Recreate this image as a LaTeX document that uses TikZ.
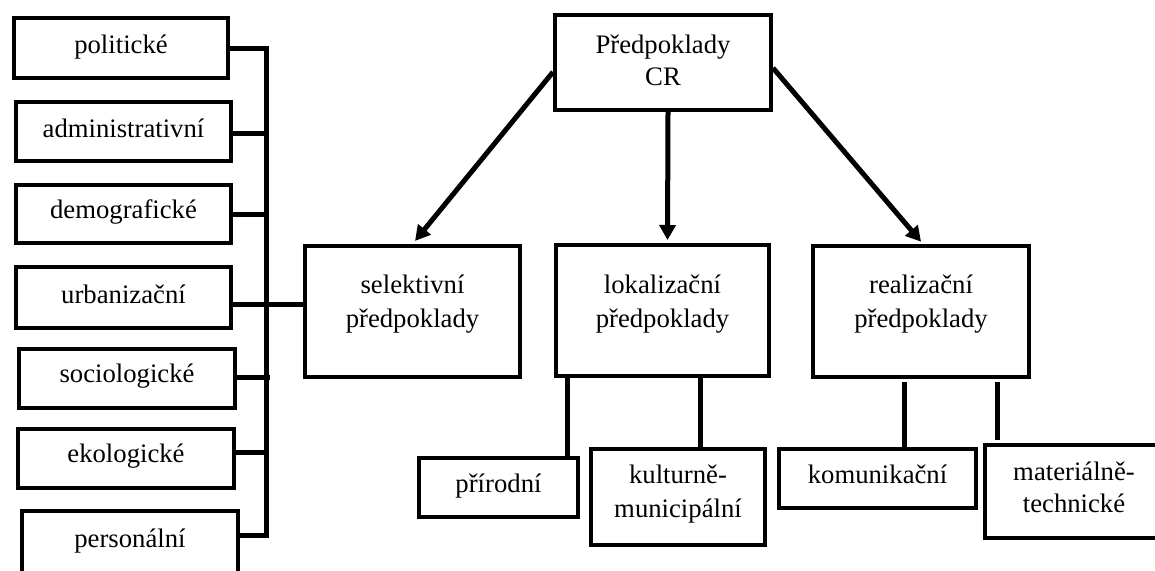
\documentclass[tikz,border=0pt]{standalone}
\usepackage{fontspec}
\setmainfont{Liberation Serif}
\usetikzlibrary{arrows.meta,calc}
\begin{document}
\begin{tikzpicture}[x=1pt,y=-1pt,
  box/.style={draw, line width=4pt, inner sep=0pt, rectangle},
  txt/.style={font=\fontsize{26.7}{31}\selectfont, anchor=base, inner sep=0pt},
  conn/.style={line width=5pt, line join=miter},
  arr/.style={line width=5pt, -{Triangle[length=15pt,width=16pt]}}]
\useasboundingbox (0,0) rectangle (1155,570);
\clip (0,0) rectangle (1155,570);
% left boxes
\node[box, minimum width=214pt, minimum height=60pt] (pol) at (121,48) {};
\node[box, minimum width=215pt, minimum height=59pt] (adm) at (123.5,131.5) {};
\node[box, minimum width=215pt, minimum height=58pt] (dem) at (123.5,214) {};
\node[box, minimum width=215pt, minimum height=61pt] (urb) at (123.5,297.5) {};
\node[box, minimum width=216pt, minimum height=59pt] (soc) at (127,378.5) {};
\node[box, minimum width=216pt, minimum height=59pt] (eko) at (126,458.5) {};
\node[box, minimum width=216pt, minimum height=62pt] (per) at (130,542) {};
\node[txt] (tpol) at (121,53) {politické};
\node[txt] (tadm) at (123.5,137) {administrativní};
\node[txt] (tdem) at (123.5,218) {demografické};
\node[txt] (turb) at (123.5,303) {urbanizační};
\node[txt] (tsoc) at (127,382) {sociologické};
\node[txt] (teko) at (126,462) {ekologické};
\node[txt] (tper) at (130,547) {personální};
% top and middle boxes
\node[box, minimum width=216pt, minimum height=95pt] (top) at (663,62.5) {};
\node[txt] (ttop1) at (663,53) {Předpoklady};
\node[txt] (ttop2) at (663,85) {CR};
\node[box, minimum width=215pt, minimum height=131pt] (sel) at (412.5,311.5) {};
\node[txt] (tsel1) at (412.5,293) {selektivní};
\node[txt] (tsel2) at (412.5,327) {předpoklady};
\node[box, minimum width=213pt, minimum height=131pt] (lok) at (662.5,310.5) {};
\node[txt] (tlok1) at (662.5,293) {lokalizační};
\node[txt] (tlok2) at (662.5,327) {předpoklady};
\node[box, minimum width=216pt, minimum height=131pt] (real) at (921,311.5) {};
\node[txt] (treal1) at (921,293) {realizační};
\node[txt] (treal2) at (921,327) {předpoklady};
% bottom boxes
\node[box, minimum width=159pt, minimum height=59pt] (pri) at (498.5,487.5) {};
\node[txt] (tpri) at (498.5,492) {přírodní};
\node[box, minimum width=174pt, minimum height=96pt] (kul) at (678,497) {};
\node[txt] (tkul1) at (678,483) {kulturně-};
\node[txt] (tkul2) at (678,517) {municipální};
\node[box, minimum width=197pt, minimum height=59pt] (kom) at (877.5,478.5) {};
\node[txt] (tkom) at (877.5,483) {komunikační};
\node[box, minimum width=179pt, minimum height=93pt] (mat) at (1074.5,491.5) {};
\node[txt] (tmat1) at (1074,480) {materiálně-};
\node[txt] (tmat2) at (1074,512) {technické};
% bus on the left
\coordinate (busbot) at (266,535);
\coordinate (pstub) at ([yshift=7pt]per.east);
\draw[conn] (pol.east) -| (busbot) -- (pstub -| per.east);
\draw[conn] ([yshift=-1.5pt]adm.east) -- ([yshift=-1.5pt]adm.east -| busbot);
\draw[conn] (dem.east) -- (dem.east -| busbot);
\coordinate (u1) at ([yshift=-6.5pt]urb.east);
\draw[conn] (u1) -- (u1 -| sel.west);
\coordinate (s1) at ([yshift=1.5pt]soc.east);
\coordinate (s2) at (270,0);
\draw[conn] (s1) -- (s1 -| s2);
\coordinate (e1) at ([yshift=6.5pt]eko.east);
\draw[conn] (e1) -- (e1 -| busbot);
% arrows
\draw[arr, shorten >=4pt] ([yshift=-9.5pt]top.west) -- (sel.north);
\draw[arr, shorten >=3pt] ([xshift=5pt]top.south) -- ([xshift=5pt]lok.north);
\draw[arr, shorten >=3pt] ([yshift=-5.5pt]top.east) -- ([xshift=2pt]real.north);
% lower connectors
\coordinate (l1) at ([xshift=-95.5pt]lok.south);
\coordinate (l2) at ([xshift=37.5pt]lok.south);
\draw[conn] (l1) -- (l1 |- pri.north);
\draw[conn] (l2) -- (l2 |- kul.north);
\coordinate (r1) at ([xshift=-17pt]real.south);
\coordinate (r2) at ([xshift=76pt]real.south);
\draw[conn, shorten <=3pt] (r1) -- (r1 |- kom.north);
\draw[conn, shorten <=3pt, shorten >=3pt] (r2) -- (r2 |- mat.north);
\end{tikzpicture}
\end{document}
